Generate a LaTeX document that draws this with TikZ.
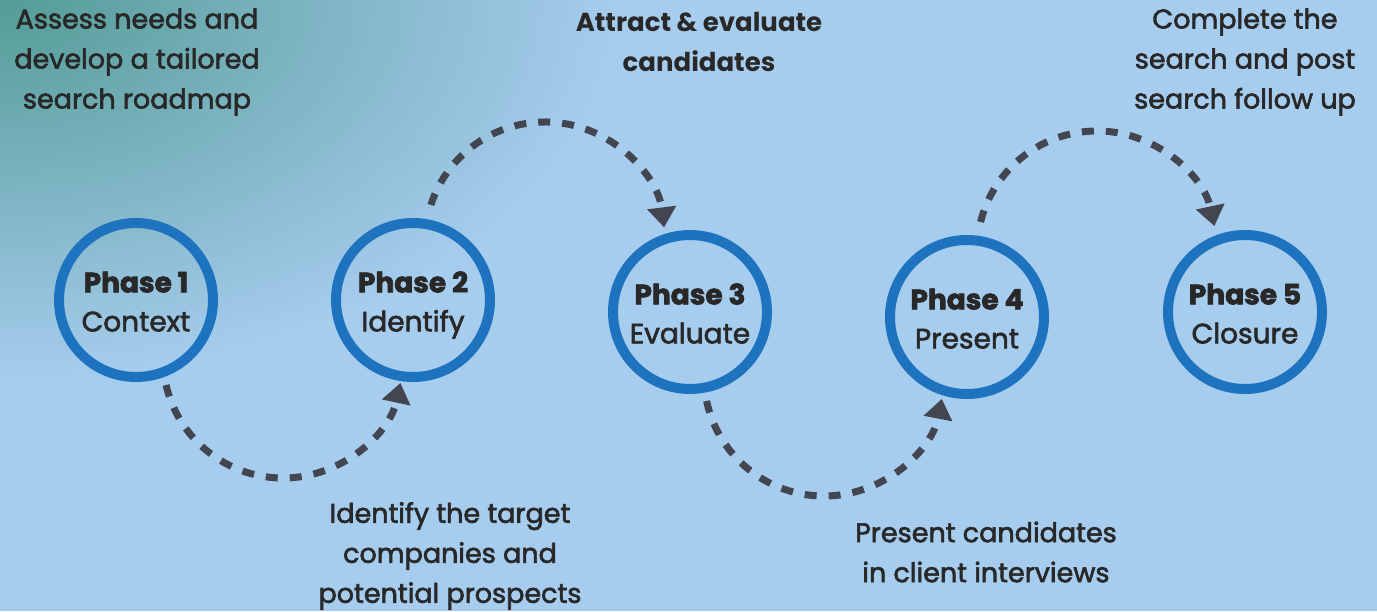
\documentclass[tikz,border=0pt]{standalone}
\usepackage{fontspec}
\setmainfont{Poppins}
\newfontfamily\medf{Poppins}[FakeBold=2.2]
\newfontfamily\blkf{Poppins}[BoldFeatures={FakeBold=2.5}]
\usetikzlibrary{arrows.meta,calc}
\definecolor{bgc}{RGB}{166,204,238}
\definecolor{tealc}{RGB}{84,156,150}
\definecolor{ringc}{RGB}{30,115,190}
\definecolor{arrc}{RGB}{67,69,80}
\definecolor{txtc}{RGB}{40,40,40}
\newcommand{\ph}[2]{{\blkf\bfseries\rule{0pt}{31pt}#1}\\#2\vphantom{Ay}}
\begin{document}
\begin{tikzpicture}[x=1pt,y=-1pt,
  phase/.style={circle,draw=ringc,line width=10pt,minimum size=154pt,inner sep=0pt,
    align=center,text=txtc,font=\medf\fontsize{28}{39}\selectfont},
  lbl/.style={align=center,text=txtc,font=\medf\fontsize{27}{40}\selectfont},
  conn/.style={draw=arrc,line width=7pt,dash pattern=on 12pt off 12pt,
    -{Triangle[length=20pt,width=28pt]}}]
\useasboundingbox (0,0) rectangle (1377,611);
\begin{scope}
\clip (0,0) rectangle (1377,611);
\fill[bgc] (0,0) rectangle (1377,611);
\shade[inner color=tealc,outer color=bgc] (0,0) ellipse (620pt and 380pt);
\end{scope}
% phases
\node[phase] (p1) at (136,300) {\ph{Phase 1}{Context}};
\node[phase] (p2) at (413,300) {\ph{Phase 2}{Identify}};
\node[phase] (p3) at (690,312) {\ph{Phase 3}{Evaluate}};
\node[phase] (p4) at (967,317) {\ph{Phase 4}{Present}};
\node[phase] (p5) at (1245,312) {\ph{Phase 5}{Closure}};
% labels
\node[lbl] (l1) at (137,62) {Assess needs and\\develop a tailored\\search roadmap};
\node[lbl,font=\fontsize{26}{40}\selectfont\bfseries] (l3) at (699,42) {Attract \& evaluate\\candidates};
\node[lbl] (l5) at (1245,62) {Complete the\\search and post\\search follow up};
\node[lbl] (l2) at (450,556) {Identify the target\\companies and\\potential prospects};
\node[lbl] (l4) at (986,552) {Present candidates\\in client interviews};
% connectors
\coordinate (a1) at ($(283,358)+(193:120pt)$);
\coordinate (a2) at ($(545,242)+(162:120pt)$);
\coordinate (a3) at ($(824,376)+(192:120pt)$);
\coordinate (a4) at ($(1097,251)+(166:120pt)$);
\draw[conn] (a1) arc[start angle=193,end angle=348,radius=120pt];
\draw[conn] (a2) arc[start angle=162,end angle=7,radius=120pt];
\draw[conn] (a3) arc[start angle=192,end angle=349,radius=120pt];
\draw[conn] (a4) arc[start angle=166,end angle=12,radius=120pt];
\end{tikzpicture}
\end{document}
